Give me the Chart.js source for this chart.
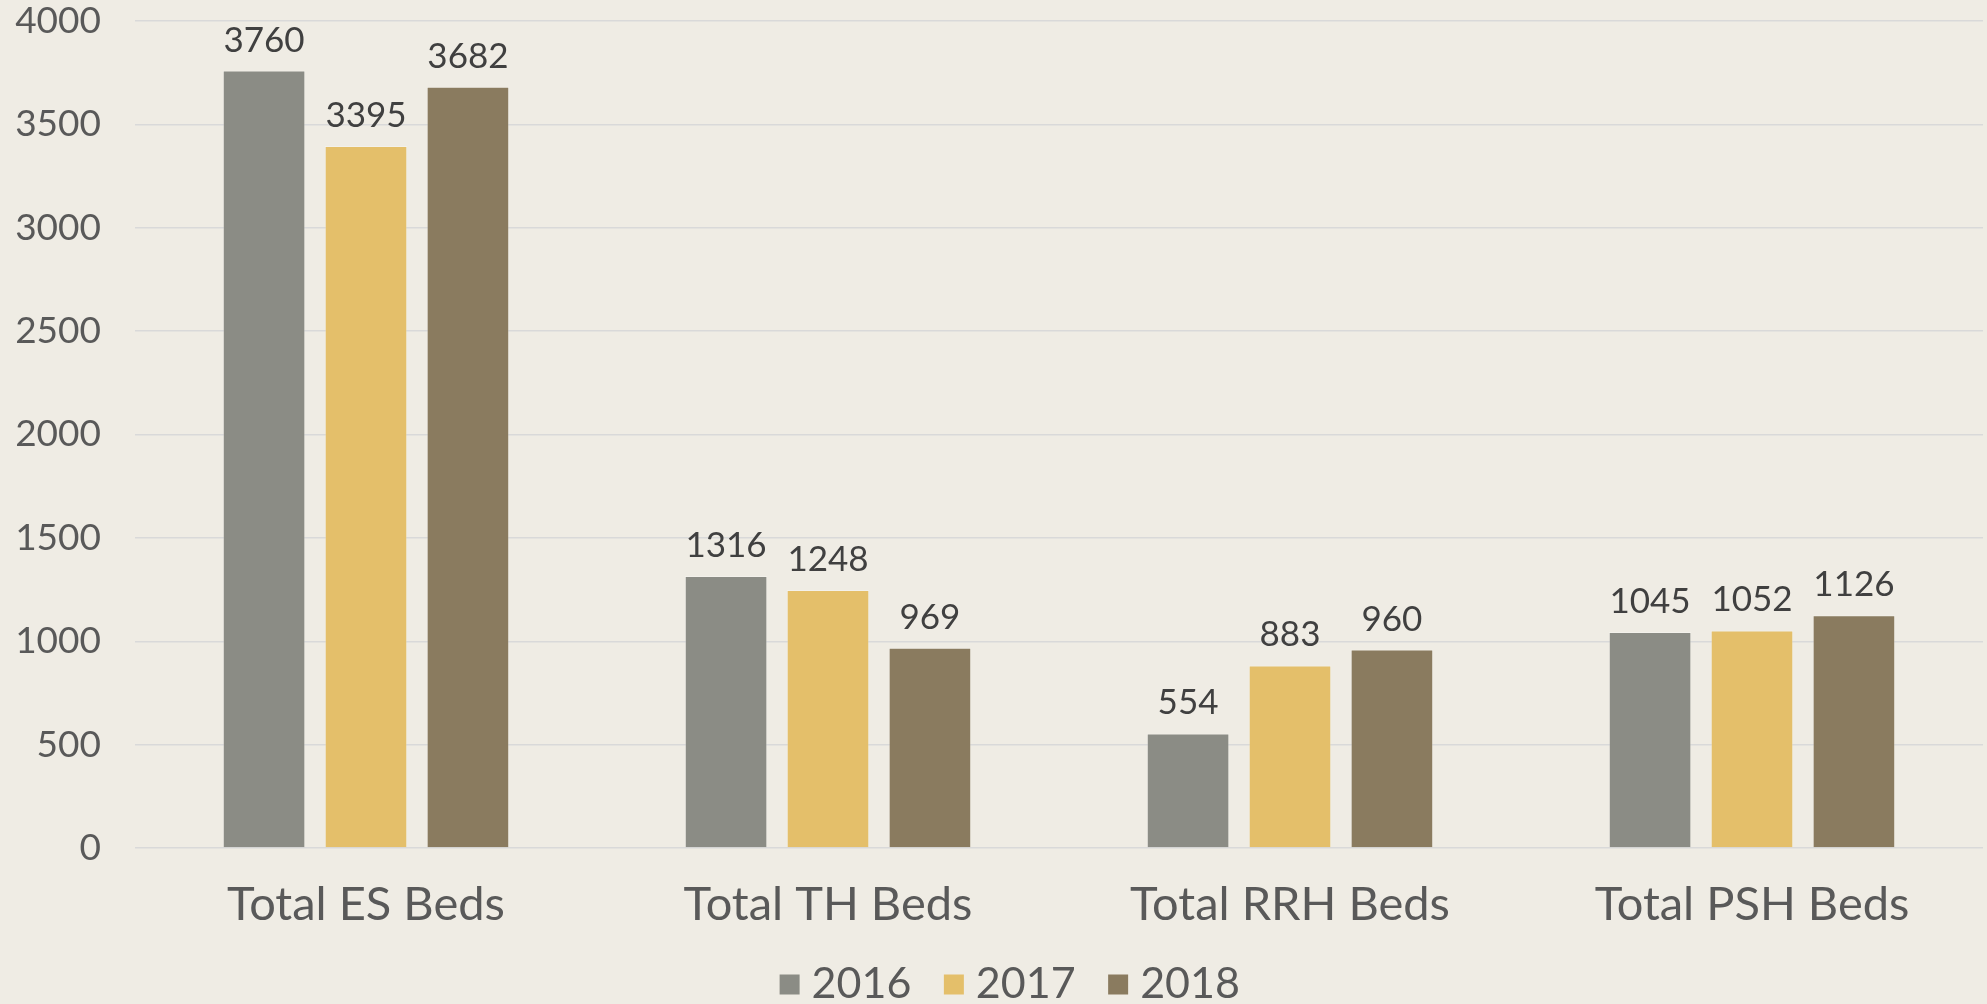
<!DOCTYPE html>
<html>
<head>
<meta charset="utf-8">
<script src="https://cdn.jsdelivr.net/npm/chart.js@4.4.0/dist/chart.umd.min.js"></script>
<style>
html,body{margin:0;padding:0;background:#efece4;}
#wrap{width:1987px;height:1004px;position:relative;}
</style>
</head>
<body>
<div id="wrap"><canvas id="c"></canvas></div>
<script>
const categories = ["Total ES Beds", "Total TH Beds", "Total RRH Beds", "Total PSH Beds"];
const seriesNames = ["2016", "2017", "2018"];
const values2016 = [3760, 1316, 554, 1045];
const values2017 = [3395, 1248, 883, 1052];
const values2018 = [3682, 969, 960, 1126];
const yTicks = [0, 500, 1000, 1500, 2000, 2500, 3000, 3500, 4000];
const colors = ["#8b8c85", "#e4bf6a", "#8a7b5f"];

const FONT = "Lato, 'Liberation Sans', sans-serif";

const dataLabels = {
  id: 'dataLabels',
  afterDatasetsDraw(chart) {
    const ctx = chart.ctx;
    ctx.save();
    ctx.font = "35px " + FONT;
    ctx.fillStyle = "#404040";
    ctx.textAlign = "center";
    ctx.textBaseline = "alphabetic";
    chart.data.datasets.forEach((ds, i) => {
      const meta = chart.getDatasetMeta(i);
      meta.data.forEach((bar, j) => {
        ctx.fillText(String(ds.data[j]), bar.x, bar.y - 19);
      });
    });
    ctx.restore();
  }
};

// shift the legend right to compensate for the trailing item padding
const legendShift = {
  id: 'legendShift',
  afterLayout(chart) {
    if (chart.legend) {
      chart.legend.left += 23;
      chart.legend.right += 23;
    }
  }
};

const allSeries = [values2016, values2017, values2018];
new Chart(document.getElementById('c'), {
  type: 'bar',
  data: {
    labels: categories,
    datasets: allSeries.map((vals, i) => ({
      label: seriesNames[i],
      data: vals,
      backgroundColor: colors[i],
      borderColor: "rgba(255,255,255,0.25)",
      borderWidth: 1,
      categoryPercentage: 0.662,
      barPercentage: 0.81
    }))
  },
  options: {
    responsive: true,
    maintainAspectRatio: false,
    animation: false,
    layout: { padding: { top: 21, right: 4, bottom: -12, left: 0 } },
    plugins: {
      legend: {
        position: 'bottom',
        labels: {
          usePointStyle: true,
          pointStyle: 'rect',
          boxWidth: 1,
          boxHeight: 20,
          padding: 42,
          color: "#595959",
          font: { family: FONT, size: 43 },
          generateLabels(chart) {
            return chart.data.datasets.map((ds, i) => ({
              text: ds.label,
              fillStyle: ds.backgroundColor,
              strokeStyle: ds.backgroundColor,
              lineWidth: 0,
              pointStyle: 'rect',
              fontColor: "#595959",
              hidden: !chart.isDatasetVisible(i),
              datasetIndex: i
            }));
          }
        }
      },
      tooltip: { enabled: false }
    },
    scales: {
      x: {
        grid: { display: false, drawTicks: false },
        border: { display: false },
        ticks: { color: "#595959", font: { family: FONT, size: 47 }, padding: 29 },
        afterFit(scale) { scale.height = 73; }
      },
      y: {
        min: 0, max: 4000,
        afterBuildTicks(scale) { scale.ticks = yTicks.map(v => ({ value: v })); },
        grid: { color: "#d9d9d9", lineWidth: 1.5, drawTicks: false },
        border: { display: false },
        ticks: { color: "#595959", font: { family: FONT, size: 37 }, padding: 34,
                 callback: (v) => String(v) },
        afterFit(scale) { scale.width = 135; scale.paddingTop = 0; scale.paddingBottom = 0; }
      }
    }
  },
  plugins: [dataLabels, legendShift]
});
</script>
</body>
</html>
